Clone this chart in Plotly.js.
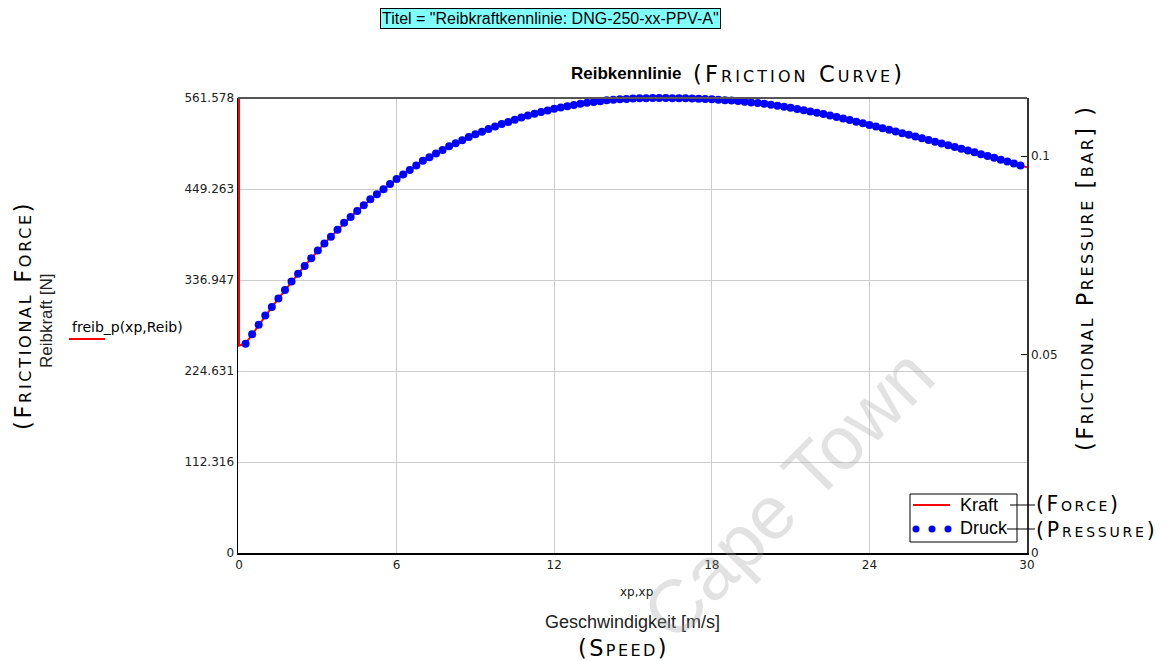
<!DOCTYPE html>
<html>
<head>
<meta charset="utf-8">
<script src="https://cdn.plot.ly/plotly-3.0.1.min.js"></script>
<style>
html,body{margin:0;padding:0;background:#fff;}
#chart{width:1171px;height:661px;}
</style>
</head>
<body>
<div id="chart"></div>
<script>
// ---- data ----
const speed = [
  0.25,0.5,0.75,1,
  1.25,1.5,1.75,2,
  2.25,2.5,2.75,3,
  3.25,3.5,3.75,4,
  4.25,4.5,4.75,5,
  5.25,5.5,5.75,6,
  6.25,6.5,6.75,7,
  7.25,7.5,7.75,8,
  8.25,8.5,8.75,9,
  9.25,9.5,9.75,10,
  10.25,10.5,10.75,11,
  11.25,11.5,11.75,12,
  12.25,12.5,12.75,13,
  13.25,13.5,13.75,14,
  14.25,14.5,14.75,15,
  15.25,15.5,15.75,16,
  16.25,16.5,16.75,17,
  17.25,17.5,17.75,18,
  18.25,18.5,18.75,19,
  19.25,19.5,19.75,20,
  20.25,20.5,20.75,21,
  21.25,21.5,21.75,22,
  22.25,22.5,22.75,23,
  23.25,23.5,23.75,24,
  24.25,24.5,24.75,25,
  25.25,25.5,25.75,26,
  26.25,26.5,26.75,27,
  27.25,27.5,27.75,28,
  28.25,28.5,28.75,29,
  29.25,29.5,29.75
];
// Reibkraft [N]
const kraft = [
  258.4,270,281.6,293,
  303.5,314,324.5,335,
  344.6,354.3,363.9,373.5,
  382,390.5,399,407.5,
  414.8,422,429.3,436.5,
  442.8,449,455.3,461.5,
  467.1,472.8,478.4,484,
  488.5,493,497.5,502,
  505.8,509.5,513.3,517,
  520.1,523.3,526.4,529.5,
  532.1,534.8,537.4,540,
  542.1,544.2,546.2,548.3,
  549.9,551.4,553,554.5,
  555.6,556.6,557.7,558.7,
  559.3,559.9,560.4,561,
  561.2,561.4,561.5,561.578,
  561.5,561.4,561.3,561.2,
  560.9,560.6,560.3,560,
  559.5,558.9,558.4,557.8,
  557,556.1,555.3,554.4,
  553.2,552,550.8,549.6,
  548.1,546.6,545,543.5,
  541.7,539.9,538,536.2,
  534.3,532.3,530.4,528.4,
  526.4,524.4,522.3,520.3,
  518.2,516.2,514.1,512,
  509.9,507.7,505.6,503.4,
  501.2,499,496.7,494.5,
  492.2,490,487.7,485.4,
  483.1,480.8,478.4
];
// Kraft start (vertical jump at v = 0) and end point
const kraftStartSpeed = [0, 0];
const kraftStart = [561.578, 256];
const kraftEndSpeed = [30];
const kraftEnd = [476.1];
// Reibdruck [bar]
const druck = [
  0.05273,0.05510,0.05747,0.05980,
  0.06194,0.06408,0.06622,0.06837,
  0.07033,0.07231,0.07427,0.07622,
  0.07796,0.07969,0.08143,0.08316,
  0.08465,0.08612,0.08761,0.08908,
  0.09037,0.09163,0.09292,0.09418,
  0.09533,0.09649,0.09763,0.09878,
  0.09969,0.10061,0.10153,0.10245,
  0.10322,0.10398,0.10476,0.10551,
  0.10614,0.10680,0.10743,0.10806,
  0.10859,0.10914,0.10967,0.11020,
  0.11063,0.11106,0.11147,0.11190,
  0.11222,0.11253,0.11286,0.11316,
  0.11339,0.11359,0.11382,0.11402,
  0.11414,0.11427,0.11437,0.11449,
  0.11453,0.11457,0.11459,0.11461,
  0.11459,0.11457,0.11455,0.11453,
  0.11447,0.11441,0.11435,0.11429,
  0.11418,0.11406,0.11396,0.11384,
  0.11367,0.11349,0.11333,0.11314,
  0.11290,0.11265,0.11241,0.11216,
  0.11186,0.11155,0.11122,0.11092,
  0.11055,0.11018,0.10980,0.10943,
  0.10904,0.10863,0.10824,0.10784,
  0.10743,0.10702,0.10659,0.10618,
  0.10576,0.10535,0.10492,0.10449,
  0.10406,0.10361,0.10318,0.10273,
  0.10229,0.10184,0.10137,0.10092,
  0.10045,0.10000,0.09953,0.09906,
  0.09859,0.09812,0.09763
];
const xTicks = [0, 6, 12, 18, 24, 30];
const xTickText = ['0', '6', '12', '18', '24', '30'];
const yTicks = [0, 112.316, 224.631, 336.947, 449.263, 561.578];
const yTickText = ['0', '112.316', '224.631', '336.947', '449.263', '561.578'];
const y2Ticks = [0, 0.05, 0.1];
const y2TickText = ['0', '0.05', '0.1'];
const yMax = 561.578;
const y2Max = 0.11461;

// ---- layout helpers (pixel -> paper) ----
const L = 238, R = 1027, T = 98, B = 553;
const X0PX = 239;                       // pixel where speed = 0 sits
const xMin = -(X0PX - L) / ((R - X0PX) / 30);
const PX = p => (p - L) / (R - L);
const PY = p => (B - p) / (B - T);
const ARIAL = 'Liberation Sans, Arial, sans-serif';
const DEJA = 'DejaVu Sans, Verdana, sans-serif';
const spaced = (t, s) => '<span style="letter-spacing:' + s + 'px">' + t + '</span>';
const capsFont = size => ({family: DEJA, size: size, color: '#000', variant: 'small-caps'});

const traces = [
  {
    name: 'Kraft', type: 'scatter', mode: 'lines',
    x: kraftStartSpeed.concat(speed, kraftEndSpeed),
    y: kraftStart.concat(kraft, kraftEnd),
    line: {color: '#ff0000', width: 2},
    xaxis: 'x', yaxis: 'y', showlegend: false, hoverinfo: 'skip'
  },
  {
    name: 'Druck', type: 'scatter', mode: 'markers',
    x: speed, y: druck,
    marker: {color: '#0000ff', size: 8, symbol: 'circle', line: {width: 0}},
    xaxis: 'x', yaxis: 'y2', showlegend: false, cliponaxis: false, hoverinfo: 'skip'
  }
];

function ann(text, xpx, ypx, opts) {
  return Object.assign({
    text: text, xref: 'paper', yref: 'paper', x: PX(xpx), y: PY(ypx),
    showarrow: false, xanchor: 'center', yanchor: 'middle'
  }, opts || {});
}

const annotations = [
  ann('Titel = "Reibkraftkennlinie: DNG-250-xx-PPV-A"', 550, 19, {
    font: {family: ARIAL, size: 16, color: '#000'},
    bgcolor: '#80ffff', bordercolor: '#000', borderwidth: 1, borderpad: 1
  }),
  ann('Reibkennlinie', 684, 74, {xanchor: 'right',
    font: {family: ARIAL, size: 17, color: '#000', weight: 'bold'}}),
  ann(spaced('(Friction Curve)', 3.1), 691, 74, {xanchor: 'left', font: capsFont(22.5)}),
  ann('Reibkraft [N]', 46, 321, {textangle: -90,
    font: {family: ARIAL, size: 17, color: '#222'}}),
  ann(spaced('(Frictional Force)', 2.7), 23, 316, {textangle: -90, font: capsFont(22.5)}),
  ann('freib_p(xp,Reib)', 70, 327, {xanchor: 'left',
    font: {family: DEJA, size: 14, color: '#000'}}),
  ann(spaced('(Frictional Pressure [bar] )', 2.5), 1085, 278, {textangle: -90, font: capsFont(22.5)}),
  ann('xp,xp', 636, 592, {font: {family: DEJA, size: 12, color: '#222'}}),
  ann('Geschwindigkeit [m/s]', 632, 622, {font: {family: ARIAL, size: 18, color: '#222'}}),
  ann(spaced('(Speed)', 2.4), 623, 648, {font: capsFont(22.5)}),
  ann('Kraft', 958, 505, {xanchor: 'left', font: {family: ARIAL, size: 18, color: '#000'}}),
  ann('Druck', 958, 528, {xanchor: 'left', font: {family: ARIAL, size: 18, color: '#000'}}),
  ann(spaced('(Force)', 2.6), 1034, 504, {xanchor: 'left', font: capsFont(20.5)}),
  ann(spaced('(Pressure)', 2.8), 1034, 530, {xanchor: 'left', font: capsFont(20.5)}),
  ann('Cape Town', 788, 494, {textangle: -45,
    font: {family: ARIAL, size: 75, color: 'rgba(160,160,160,0.3)'}})
];

const shapes = [
  // top frame
  {type: 'line', xref: 'paper', yref: 'paper', x0: 0, x1: 1, y0: 1, y1: 1,
   line: {color: '#555', width: 2}},
  // label line under freib_p
  {type: 'line', xref: 'paper', yref: 'paper', x0: PX(69), x1: PX(105), y0: PY(339), y1: PY(339),
   line: {color: '#ff0000', width: 2}},
  // legend box
  {type: 'rect', xref: 'paper', yref: 'paper', x0: PX(910), x1: PX(1017), y0: PY(542), y1: PY(494),
   line: {color: '#000', width: 1}, fillcolor: '#fff'},
  {type: 'line', xref: 'paper', yref: 'paper', x0: PX(913), x1: PX(950), y0: PY(505), y1: PY(505),
   line: {color: '#ff0000', width: 2}},
  // connectors
  {type: 'line', xref: 'paper', yref: 'paper', x0: PX(1010), x1: PX(1035), y0: PY(505), y1: PY(505),
   line: {color: '#000', width: 1}},
  {type: 'line', xref: 'paper', yref: 'paper', x0: PX(1007), x1: PX(1035), y0: PY(529), y1: PY(529),
   line: {color: '#000', width: 1}}
];
[916, 932, 948].forEach(cx => {
  shapes.push({type: 'circle', xref: 'paper', yref: 'paper',
    x0: PX(cx - 3.5), x1: PX(cx + 3.5), y0: PY(529 + 3.5), y1: PY(529 - 3.5),
    line: {width: 0}, fillcolor: '#0000ff'});
});

const layout = {
  width: 1171, height: 661,
  margin: {l: L, r: 1171 - R, t: T, b: 661 - B, pad: 0},
  paper_bgcolor: '#fff', plot_bgcolor: '#fff',
  showlegend: false,
  font: {family: DEJA, size: 12, color: '#222'},
  xaxis: {
    range: [xMin, 30], tickvals: xTicks, ticktext: xTickText,
    showgrid: true, gridcolor: '#cccccc', gridwidth: 1,
    showline: true, linecolor: '#000', linewidth: 1.5,
    zeroline: false, ticks: '', fixedrange: true,
    tickfont: {family: DEJA, size: 12, color: '#222'}
  },
  yaxis: {
    range: [0, yMax], tickvals: yTicks, ticktext: yTickText,
    showgrid: true, gridcolor: '#cccccc', gridwidth: 1,
    showline: true, linecolor: '#000', linewidth: 1.5,
    zeroline: false, ticks: '', fixedrange: true,
    tickfont: {family: DEJA, size: 12, color: '#222'}
  },
  yaxis2: {
    overlaying: 'y', side: 'right', range: [0, y2Max],
    tickvals: y2Ticks, ticktext: y2TickText,
    showgrid: false, zeroline: false,
    showline: true, linecolor: '#333', linewidth: 1.5,
    ticks: 'inside', ticklen: 6, tickcolor: '#000', fixedrange: true,
    tickfont: {family: DEJA, size: 12, color: '#222'}
  },
  annotations: annotations,
  shapes: shapes
};

Plotly.newPlot('chart', traces, layout, {displayModeBar: false, staticPlot: true});
</script>
</body>
</html>
